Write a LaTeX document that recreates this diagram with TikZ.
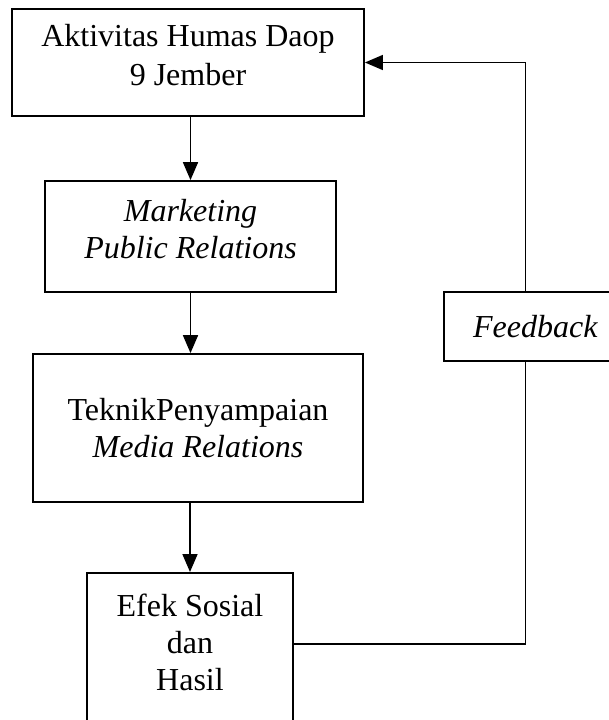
\documentclass[tikz,border=0pt]{standalone}
\usepackage{fontspec}
\setmainfont{Liberation Serif}
\usetikzlibrary{arrows.meta}
\begin{document}
\begin{tikzpicture}[x=1pt,y=-1pt,
    kotak/.style={draw,line width=1.8pt,align=center,inner sep=0pt,
      font=\fontsize{32}{37}\selectfont},
    panah/.style={line width=1.8pt,-{Triangle[length=18pt,width=15pt]}},
    garis/.style={line width=1.5pt}]
  \useasboundingbox (0,0) rectangle (609,720);
  \node[kotak,minimum width=352pt,minimum height=107pt,text depth=16pt] (aktivitas) at (188,62.5)
    {Aktivitas Humas Daop\\[2pt]9 Jember};
  \node[kotak,minimum width=291pt,minimum height=111pt,text depth=15pt] (marketing) at (190.5,236.5)
    {\textit{Marketing}\\\textit{Public Relations}};
  \node[kotak,minimum width=330pt,minimum height=148pt] (teknik) at (198,428)
    {TeknikPenyampaian\\\textit{Media Relations}};
  \node[kotak,minimum width=206pt,anchor=north,inner ysep=21pt,text depth=130pt] (efek) at (190,572)
    {Efek Sosial\\dan\\Hasil};
  \node[kotak,minimum width=183pt,minimum height=69pt] (feedback) at (535.5,326.5)
    {\textit{Feedback}};
  %
  \draw[panah] (aktivitas.south -| marketing.north) -- (marketing.north);
  \draw[panah] (marketing.south) -- (marketing.south |- teknik.north);
  \draw[panah] (teknik.south -| efek.north) -- (efek.north);
  \coordinate (belok) at (525.7,644);
  \draw[garis] (belok -| efek.east) -- (belok) -- (belok |- feedback.south);
  \draw[panah,line width=1.5pt] (belok |- feedback.north) -- (belok |- aktivitas.east) -- (aktivitas.east);
\end{tikzpicture}
\end{document}
